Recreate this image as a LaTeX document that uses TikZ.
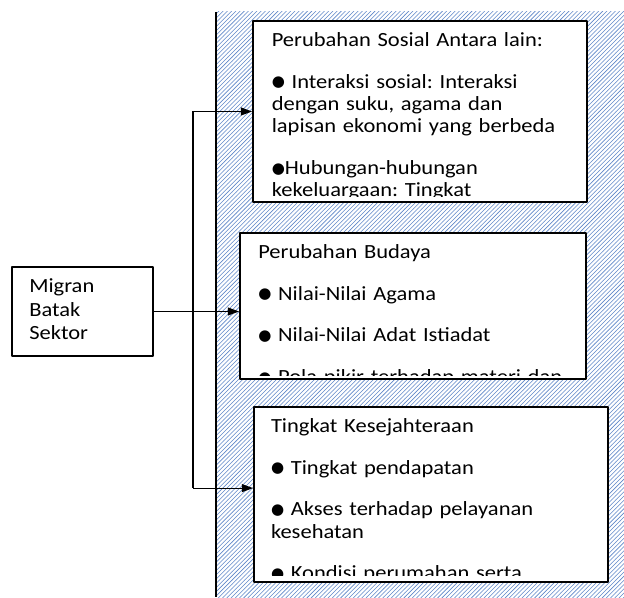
\documentclass[tikz,border=0pt]{standalone}
\usepackage{fontspec}
\setmainfont{Carlito}[FakeStretch=1.12]
\newfontfamily\symfont[Scale=0.75]{DejaVu Sans}
\newcommand{\blt}{\raisebox{0.06em}{\symfont ●}}
\usepackage{xcolor}
\usetikzlibrary{arrows.meta, patterns}
\definecolor{hatchblue}{RGB}{95,135,200}
\frenchspacing

\begin{document}
\begin{tikzpicture}[line join=round,
    font=\fontsize{14.3}{15.95}\selectfont,
    box/.style={draw, line width=1.4pt, fill=white, inner sep=0pt},
    boxtext/.style={inner sep=0pt, anchor=base west, text width=#1, align=left},
    link/.style={line width=0.8pt},
    arr/.style={link, -{Triangle[length=0.28cm, width=0.2cm]}}]

    \useasboundingbox (0, 0) rectangle (15.6, 14.925);

    % Hatched band behind the three result boxes
    \fill[pattern=north east lines, pattern color=hatchblue] (5.4, 0) rectangle (15.6, 14.625);
    \draw[line width=1.4pt] (5.4, 14.625) -- (5.4, 0);

    % Boxes (text is cut off at the bottom edge, as in the source)
    \node[box, minimum width=3.525cm, minimum height=2.225cm] (migran) at (2.0625, 7.1375) {};
    \node[box, minimum width=8.35cm, minimum height=4.525cm] (sosial) at (10.5, 12.1375) {};
    \node[box, minimum width=8.65cm, minimum height=3.65cm] (budaya) at (10.325, 7.275) {};
    \node[box, minimum width=8.85cm, minimum height=4.375cm] (sejahtera) at (10.775, 2.5625) {};

    \node[boxtext=3cm] (migrantext) at ([shift={(0.45, -0.67)}]migran.north west)
        {Migran\\[0.02cm]Batak\\[0.02cm]Sektor};

    \begin{scope}
        \clip ([yshift=0.15cm]sosial.south west) rectangle (sosial.north east);
        \node[boxtext=7.8cm] (sosialtext) at ([shift={(0.4875, -0.66)}]sosial.north west)
            {Perubahan Sosial Antara lain:\\[0.48cm]
             \blt{} Interaksi sosial: Interaksi\\
             dengan suku, agama dan\\
             lapisan ekonomi yang berbeda\\[0.48cm]
             \blt{}Hubungan-hubungan\\
             kekeluargaan: Tingkat};
    \end{scope}

    \begin{scope}
        \clip ([yshift=0.1cm]budaya.south west) rectangle (budaya.north east);
        \node[boxtext=8.1cm] (budayatext) at ([shift={(0.475, -0.66)}]budaya.north west)
            {Perubahan Budaya\\[0.48cm]
             \blt{} Nilai-Nilai Agama\\[0.48cm]
             \blt{} Nilai-Nilai Adat Istiadat\\[0.48cm]
             \blt{} Pola pikir terhadap materi dan};
    \end{scope}

    \begin{scope}
        \clip ([yshift=0.19cm]sejahtera.south west) rectangle (sejahtera.north east);
        \node[boxtext=8.3cm] (sejahteratext) at ([shift={(0.4425, -0.66)}]sejahtera.north west)
            {Tingkat Kesejahteraan\\[0.48cm]
             \blt{} Tingkat pendapatan\\[0.48cm]
             \blt{} Akses terhadap pelayanan\\
             kesehatan\\[0.48cm]
             \blt{} Kondisi perumahan serta};
    \end{scope}

    % Connectors
    \coordinate (split) at (4.825, 7.1375);
    \coordinate (lowin) at ([yshift=0.16cm]sejahtera.west);
    \draw[arr] (migran.east) -- (migran.east -| budaya.west);
    \draw[link] (split |- sosial.west) -- (split |- lowin);
    \draw[arr] (split |- sosial.west) -- (sosial.west);
    \draw[arr] (split |- lowin) -- (lowin);

\end{tikzpicture}
\end{document}
